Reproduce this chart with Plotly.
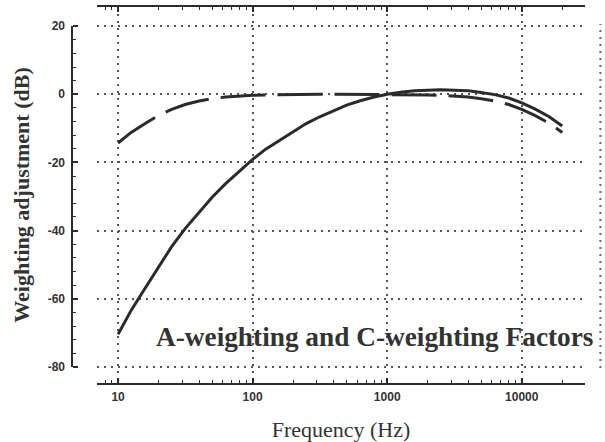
import plotly.graph_objects as go

# Data (standard A- and C-weighting values)
freq = [10, 12.5, 16, 20, 25, 31.5, 40, 50, 63, 80, 100, 125, 160, 200, 250, 315,
        400, 500, 630, 800, 1000, 1250, 1600, 2000, 2500, 3150, 4000, 5000, 6300,
        8000, 10000, 12500, 16000, 20000]
a_weight = [-70.4, -63.4, -56.7, -50.5, -44.7, -39.4, -34.6, -30.2, -26.2, -22.5,
            -19.1, -16.1, -13.4, -10.9, -8.6, -6.6, -4.8, -3.2, -1.9, -0.8, 0.0,
            0.6, 1.0, 1.2, 1.3, 1.2, 1.0, 0.5, -0.1, -1.1, -2.5, -4.3, -6.6, -9.3]
c_weight = [-14.3, -11.2, -8.5, -6.2, -4.4, -3.0, -2.0, -1.3, -0.8, -0.5, -0.3, -0.2,
            -0.1, 0.0, 0.0, 0.0, 0.0, 0.0, 0.0, 0.0, 0.0, 0.0, -0.1, -0.2, -0.3,
            -0.5, -0.8, -1.3, -2.0, -3.0, -4.4, -6.2, -8.5, -11.2]

x_tickvals = [10, 100, 1000, 10000]
x_ticktext = ["10", "100", "1000", "10000"]
y_tickvals = [20, 0, -20, -40, -60, -80]
y_ticktext = ["20", "0", "-20", "-40", "-60", "-80"]
y_minorvals = [v for v in range(-76, 20, 4) if v % 20 != 0]

title_text = "A-weighting and C-weighting Factors"

INK = "#2b2b2b"
GRID = "#555555"

fig = go.Figure()
fig.add_trace(go.Scatter(x=freq, y=a_weight, mode="lines", name="A-weighting",
                         line=dict(color=INK, width=3), showlegend=False))
fig.add_trace(go.Scatter(x=freq, y=c_weight, mode="lines", name="C-weighting",
                         line=dict(color=INK, width=3, dash="45px,12px"),
                         showlegend=False))

fig.update_layout(
    width=605, height=442,
    margin=dict(l=72, r=20, t=7, b=59),
    paper_bgcolor="white", plot_bgcolor="white",
    xaxis=dict(
        type="log", range=[0.8433, 4.470], domain=[25 / 513, 1],
        automargin=False,
        tickmode="array", tickvals=x_tickvals, ticktext=x_ticktext,
        showline=True, linecolor=INK, linewidth=2, mirror="ticks",
        ticks="inside", ticklen=5, tickwidth=1.5, tickcolor=INK,
        ticklabelstandoff=2,
        minor=dict(dtick="D1", ticks="inside", ticklen=3, tickwidth=1,
                   tickcolor=INK, showgrid=False),
        showgrid=True, gridcolor=GRID, gridwidth=2, griddash="2px,5px",
        tickfont=dict(family="Liberation Sans", size=12, color="#333", weight="bold"),
        title=dict(text="Frequency (Hz)", standoff=20,
                   font=dict(family="Liberation Serif", size=22, color="#333")),
        zeroline=False,
    ),
    yaxis=dict(
        range=[-84.7, 25.6], anchor="free", position=0, automargin=False,
        tickmode="array", tickvals=y_tickvals, ticktext=y_ticktext,
        showline=False, ticks="inside", ticklen=5, tickwidth=1.5, tickcolor=INK,
        ticklabelstandoff=7,
        minor=dict(tickmode="array", tickvals=y_minorvals, ticks="inside",
                   ticklen=3, tickwidth=1, tickcolor=INK, showgrid=False),
        showgrid=True, gridcolor=GRID, gridwidth=2, griddash="2px,5px",
        tickfont=dict(family="Liberation Sans", size=12, color="#333", weight="bold"),
        title=dict(text="Weighting adjustment (dB)", standoff=10,
                   font=dict(family="Liberation Serif", size=22, color="#333",
                             weight="bold")),
        zeroline=False,
    ),
)

# Y axis line spanning only the labelled range
fig.add_shape(type="line", xref="paper", yref="y", x0=0, x1=0, y0=-80, y1=20,
              line=dict(color=INK, width=2))
# dotted line at the right edge
fig.add_shape(type="line", xref="paper", yref="paper", x0=1.03, x1=1.03,
              y0=0.04, y1=0.955, layer="above",
              line=dict(color="#666", width=2, dash="2px,5px"))

fig.add_annotation(text="<b>" + title_text + "</b>", xref="paper", yref="y",
                   x=(154 - 72) / 513, y=-71.3, xanchor="left", yanchor="middle",
                   showarrow=False,
                   font=dict(family="Liberation Serif", size=27.3, color="#333"))

fig.write_html("out.html", config={"displayModeBar": False},
               post_script="document.body.style.margin='0';")
